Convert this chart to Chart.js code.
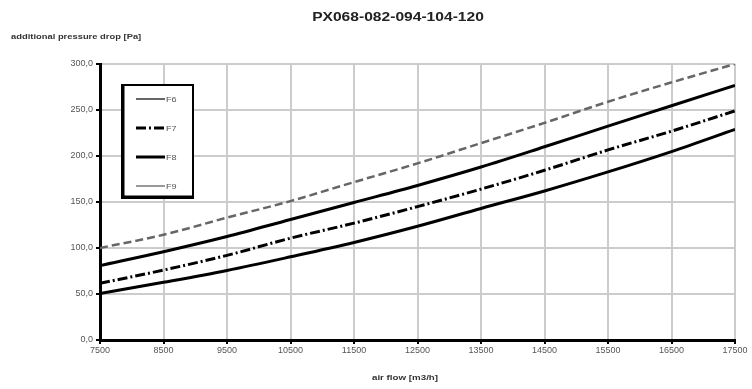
<!DOCTYPE html>
<html>
<head>
<meta charset="utf-8">
<script src="https://cdn.jsdelivr.net/npm/chart.js@4.4.1/dist/chart.umd.min.js"></script>
<style>
html,body{margin:0;padding:0;background:#fff;}
#wrap{width:752px;height:389px;position:relative;}
</style>
</head>
<body>
<div id="wrap"><canvas id="c" width="752" height="389"></canvas></div>
<script>
const chartTitle = 'PX068-082-094-104-120';
const yTitle = 'additional pressure drop [Pa]';
const xTitle = 'air flow [m3/h]';
const airFlow = [7500, 8500, 9500, 10500, 11500, 12500, 13500, 14500, 15500, 16500, 17500];
const seriesNames = ['F6', 'F7', 'F8', 'F9'];
const f6 = [50.5, 62.7, 75.6, 90.4, 106, 123.6, 143, 162, 182.7, 204.8, 228.8];
const f7 = [61.6, 76, 92, 110.7, 127, 145, 164, 184.5, 206.6, 227, 249];
const f8 = [81, 96, 112.5, 131, 149.5, 168, 188, 210, 232.5, 254.6, 276.8];
const f9 = [100, 114.4, 133, 151, 171.6, 192, 214, 236, 259, 280, 300];
const xTicks = [7500, 8500, 9500, 10500, 11500, 12500, 13500, 14500, 15500, 16500, 17500];
const yTicks = [0, 50, 100, 150, 200, 250, 300];

const seriesValues = [f6, f7, f8, f9];
const lineStyles = [
  {color:'#000000', width:3, dash:[]},
  {color:'#000000', width:3, dash:[10,3,2,3]},
  {color:'#000000', width:3, dash:[]},
  {color:'#666666', width:2.5, dash:[8,4]}
];
const legendStyles = [
  {color:'#000000', width:1.2, dash:[]},
  {color:'#000000', width:3, dash:[10,3,2,3]},
  {color:'#000000', width:3, dash:[]},
  {color:'#555555', width:1.2, dash:[]}
];

const datasets = seriesNames.map((n, i) => ({
  label: n,
  data: airFlow.map((x, j) => ({x: x, y: seriesValues[i][j]})),
  borderColor: lineStyles[i].color,
  borderWidth: lineStyles[i].width,
  borderDash: lineStyles[i].dash,
  pointRadius: 0,
  fill: false,
  cubicInterpolationMode: 'monotone'
}));

function stretchText(ctx, text, x, y, sx, align) {
  ctx.save();
  ctx.translate(x, y);
  ctx.scale(sx, 1);
  ctx.textAlign = align;
  ctx.fillText(text, 0, 0);
  ctx.restore();
}

const textPlugin = {
  id: 'texts',
  afterDraw(chart) {
    const ctx = chart.ctx;
    ctx.save();
    ctx.fillStyle = '#222';
    ctx.textBaseline = 'middle';
    ctx.font = 'bold 12px "Liberation Sans", Arial, sans-serif';
    stretchText(ctx, chartTitle, 398, 18, 1.3, 'center');
    ctx.font = 'bold 7.5px "Liberation Sans", Arial, sans-serif';
    ctx.fillStyle = '#333';
    stretchText(ctx, yTitle, 11, 37, 1.25, 'left');
    stretchText(ctx, xTitle, 405, 378, 1.3, 'center');

    // legend
    const bx = 122, by = 85, bw = 71, bh = 113;
    ctx.fillStyle = '#fff';
    ctx.fillRect(bx, by, bw, bh);
    ctx.strokeStyle = '#000';
    ctx.lineWidth = 2;
    ctx.setLineDash([]);
    ctx.strokeRect(bx, by, bw, bh);
    ctx.lineWidth = 3;
    ctx.beginPath();
    ctx.moveTo(bx + 1, by);
    ctx.lineTo(bx + 1, by + bh - 1);
    ctx.lineTo(bx + bw, by + bh - 1);
    ctx.stroke();
    ctx.font = '7px "Liberation Sans", Arial, sans-serif';
    seriesNames.forEach((n, i) => {
      const y = 99 + i * 29;
      const s = legendStyles[i];
      ctx.strokeStyle = s.color;
      ctx.lineWidth = s.width;
      ctx.setLineDash(s.dash);
      ctx.beginPath();
      ctx.moveTo(136, y);
      ctx.lineTo(165, y);
      ctx.stroke();
      ctx.setLineDash([]);
      ctx.fillStyle = '#555';
      stretchText(ctx, n, 166, y + 1, 1.3, 'left');
    });
    ctx.restore();
  }
};

new Chart(document.getElementById('c'), {
  type: 'line',
  data: { datasets: datasets },
  options: {
    responsive: false,
    animation: false,
    layout: { padding: { left: 0, right: 17, top: 64, bottom: 0 } },
    plugins: { legend: { display: false }, title: { display: false }, tooltip: { enabled: false } },
    scales: {
      x: {
        type: 'linear',
        min: 7500, max: 17500,
        afterFit(s) { s.height = 49; },
        afterBuildTicks(s) { s.ticks = xTicks.map(v => ({value: v})); },
        grid: { color: '#cccccc', lineWidth: 2, tickLength: 4, tickColor: '#000', drawOnChartArea: true },
        border: { color: '#000', width: 3 },
        ticks: { font: { size: 9, family: '"Liberation Sans", Arial' }, color: '#555', padding: 1, maxRotation: 0, autoSkip: false,
          callback: v => String(v) }
      },
      y: {
        min: 0, max: 300,
        afterFit(s) { s.width = 100; },
        afterBuildTicks(s) { s.ticks = yTicks.map(v => ({value: v})); },
        grid: { color: '#cccccc', lineWidth: 2, tickLength: 4, tickColor: '#000' },
        border: { color: '#000', width: 3 },
        ticks: { font: { size: 9, family: '"Liberation Sans", Arial' }, color: '#555', padding: 3,
          callback: v => v.toFixed(1).replace('.', ',') }
      }
    }
  },
  plugins: [textPlugin]
});
</script>
</body>
</html>
